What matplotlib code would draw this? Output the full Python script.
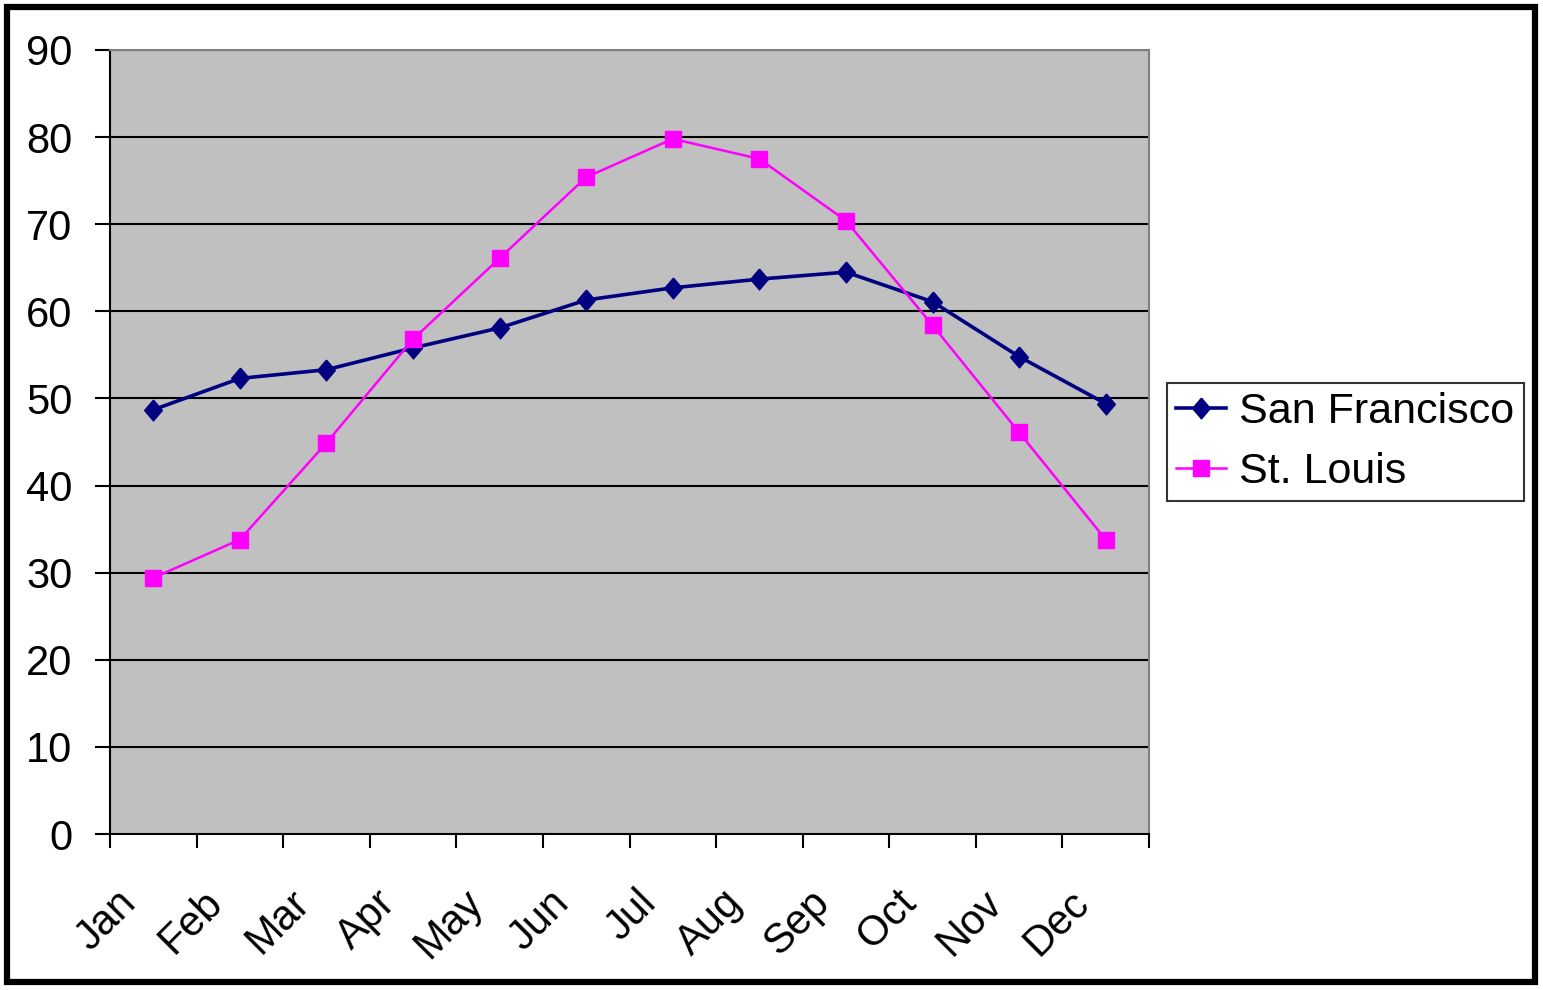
import matplotlib
matplotlib.use("Agg")
import matplotlib.pyplot as plt
from matplotlib.patches import Rectangle
from matplotlib.transforms import ScaledTranslation

plt.rcParams['font.family'] = ['Liberation Sans', 'DejaVu Sans']

months = ['Jan', 'Feb', 'Mar', 'Apr', 'May', 'Jun', 'Jul', 'Aug', 'Sep', 'Oct', 'Nov', 'Dec']
san_francisco = [48.7, 52.3, 53.3, 55.8, 58.1, 61.3, 62.7, 63.7, 64.5, 61.1, 54.8, 49.4]
st_louis = [29.4, 33.8, 44.9, 56.8, 66.1, 75.4, 79.8, 77.5, 70.4, 58.4, 46.1, 33.8]
y_ticks = [0, 10, 20, 30, 40, 50, 60, 70, 80, 90]

# excel-ish diamond, a bit taller than wide
diamond = [(0, 1), (0.85, 0), (0, -1), (-0.85, 0), (0, 1)]

fig = plt.figure(figsize=(15.43, 9.9), dpi=100)
ax = fig.add_axes([110 / 1543, 1 - 834 / 990, 1039 / 1543, 784 / 990])
ax.set_facecolor('#C0C0C0')

x = [i + 0.5 for i in range(len(months))]
ax.plot(x, san_francisco, color='#000080', marker=diamond, markersize=15, lw=2.6,
        label='San Francisco', zorder=3)
ax.plot(x, st_louis, color='#FF00FF', marker='s', markersize=11, lw=1.8, label='St. Louis', zorder=3)

ax.set_xlim(0, 12)
ax.set_ylim(0, 90)
ax.set_yticks(y_ticks)
ax.set_yticklabels([str(v) for v in y_ticks], fontsize=30)
for v in y_ticks[1:]:
    ax.axhline(v, color='black', lw=1.5, zorder=1)

ax.set_xticks(range(13))
ax.set_xticklabels([])
ax.set_xticks(x, minor=True)
ax.set_xticklabels(months, minor=True, rotation=45, ha='right', va='center',
                   rotation_mode='anchor', fontsize=30)
ax.tick_params(axis='x', which='minor', length=0, pad=45)
ax.tick_params(axis='x', which='major', length=10, width=1.5, direction='out')
ax.tick_params(axis='y', length=11, width=1.5, direction='out', pad=16)
shift = ScaledTranslation(-0.23, 0, fig.dpi_scale_trans)
for lbl in ax.get_xticklabels(minor=True):
    lbl.set_transform(lbl.get_transform() + shift)

for side in ['top', 'right']:
    ax.spines[side].set_color('#808080')
    ax.spines[side].set_linewidth(1.5)
for side in ['left', 'bottom']:
    ax.spines[side].set_color('black')
    ax.spines[side].set_linewidth(1.5)

leg = ax.legend(loc='center left', bbox_to_anchor=((1167 - 110) / 1039, 0.5), fontsize=31,
                frameon=True, fancybox=False, edgecolor='black', borderaxespad=0,
                handlelength=1.15, handletextpad=0.3, labelspacing=0.45, borderpad=0.22)
leg.get_frame().set_linewidth(1.5)

fig.patches.append(Rectangle((7 / 1543, 8 / 990), 1528 / 1543, 975 / 990, transform=fig.transFigure,
                             fill=False, edgecolor='black', lw=4.5))

fig.savefig('out.png', dpi=100)
